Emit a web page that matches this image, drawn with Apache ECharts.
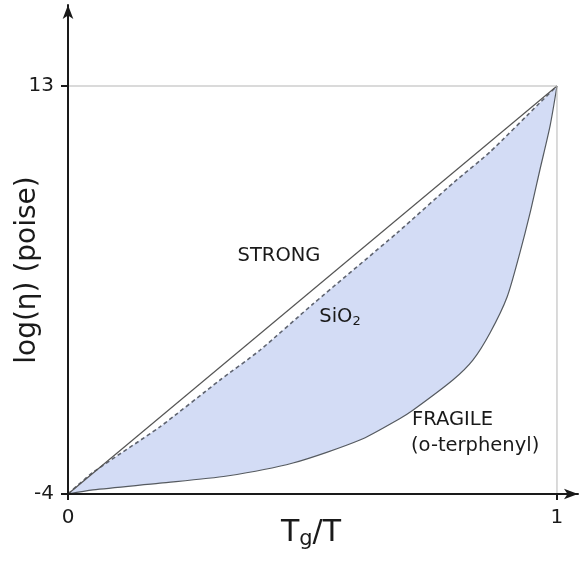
<!DOCTYPE html>
<html lang="en">
<head>
    <meta charset="UTF-8">
    <title>Strong and fragile glass formers</title>
    <script src="https://cdn.jsdelivr.net/npm/echarts@6.0.0/dist/echarts.min.js"></script>
    <style>
        html, body { margin: 0; padding: 0; background: #fff; }
        #chart { width: 579px; height: 561px; }
    </style>
</head>
<body>
    <div id="chart"></div>

    <script>
        // Tg/T, log(eta) pairs
        const strongLine = [[0, -4], [1, 13]];
        const sio2Line = [[0, -4], [0.051, -3.1], [0.188, -1.2], [0.311, 0.75], [0.393, 2.0],
            [0.5, 3.9], [0.673, 6.88], [0.79, 9.0], [0.863, 10.25], [0.965, 12.3], [1, 13]];
        const fragileLine = [[0, -4], [0.051, -3.83], [0.188, -3.55], [0.325, -3.25], [0.46, -2.71],
            [0.597, -1.75], [0.679, -0.85], [0.706, -0.5], [0.787, 0.75], [0.828, 1.58],
            [0.863, 2.71], [0.898, 4.21], [0.924, 6.04], [0.945, 7.71], [0.965, 9.5],
            [0.986, 11.35], [1, 13]];
        const refLine = [[0, 13], [1, 13], [1, -4]];
        const xTicks = [0, 1];
        const yTicks = [-4, 13];

        const chart = echarts.init(document.getElementById('chart'));
        const font = 'DejaVu Sans';
        const ink = '#1a1a1a';
        const noteFont = '19.5px "DejaVu Sans"';

        chart.setOption({
            animation: false,
            grid: { left: 68, top: 5, right: 1, bottom: 67 },
            xAxis: {
                type: 'value',
                min: 0,
                max: 1.043,
                z: 5,
                splitLine: { show: false },
                axisLine: {
                    onZero: false,
                    lineStyle: { color: ink, width: 2 },
                    symbol: ['none', 'arrow'],
                    symbolSize: [8, 14]
                },
                axisTick: { customValues: xTicks, length: 6, lineStyle: { color: ink, width: 2 } },
                axisLabel: {
                    customValues: xTicks,
                    color: ink, fontFamily: font, fontSize: 20, margin: 14
                }
            },
            yAxis: {
                type: 'value',
                min: -4,
                max: 16.375,
                z: 5,
                splitLine: { show: false },
                axisLine: {
                    onZero: false,
                    lineStyle: { color: ink, width: 2 },
                    symbol: ['none', 'arrow'],
                    symbolSize: [8, 14]
                },
                axisTick: { customValues: yTicks, length: 7, lineStyle: { color: ink, width: 2 } },
                axisLabel: {
                    customValues: yTicks,
                    color: ink, fontFamily: font, fontSize: 20, margin: 14
                }
            },
            graphic: {
                elements: [
                    {
                        type: 'text', x: 279, y: 256, z: 100,
                        style: { text: 'STRONG', fill: ink, font: noteFont, align: 'center', verticalAlign: 'middle' }
                    },
                    {
                        type: 'text', x: 340, y: 317, z: 100,
                        style: {
                            text: 'SiO{s|2}', fill: ink, font: noteFont, align: 'center', verticalAlign: 'middle',
                            rich: { s: { fontSize: 13, fontFamily: font, fill: ink, padding: [9, 0, 0, 0] } }
                        }
                    },
                    {
                        type: 'text', x: 412, y: 420, z: 100,
                        style: { text: 'FRAGILE', fill: ink, font: noteFont, align: 'left', verticalAlign: 'middle' }
                    },
                    {
                        type: 'text', x: 411, y: 446, z: 100,
                        style: { text: '(o-terphenyl)', fill: ink, font: noteFont, align: 'left', verticalAlign: 'middle' }
                    },
                    {
                        type: 'text', x: 28, y: 270, z: 100, rotation: Math.PI / 2,
                        style: { text: 'log(η) (poise)', fill: ink, font: '28px "DejaVu Sans"', align: 'center', verticalAlign: 'middle' }
                    },
                    {
                        type: 'text', x: 311, y: 533, z: 100,
                        style: {
                            text: 'T{s|g}/T', fill: ink, font: '30px "DejaVu Sans"', align: 'center', verticalAlign: 'middle',
                            rich: { s: { fontSize: 21, fontFamily: font, fill: ink, padding: [14, 0, 0, 0] } }
                        }
                    }
                ]
            },
            series: [
                {
                    type: 'line',
                    data: sio2Line,
                    smooth: 0.2,
                    symbol: 'none',
                    lineStyle: { color: '#5f6470', width: 1.6, type: [4, 3] },
                    areaStyle: { color: '#d3dcf5', opacity: 1, origin: 'start' }
                },
                {
                    type: 'line',
                    data: fragileLine,
                    smooth: 0.25,
                    symbol: 'none',
                    lineStyle: { color: '#555a60', width: 1.2 },
                    areaStyle: { color: '#ffffff', opacity: 1, origin: 'start' }
                },
                {
                    type: 'line',
                    data: strongLine,
                    symbol: 'none',
                    lineStyle: { color: '#555555', width: 1.2 }
                },
                {
                    type: 'line',
                    data: refLine,
                    symbol: 'none',
                    lineStyle: { color: '#b5b5b5', width: 1 }
                }
            ]
        });
    </script>
</body>
</html>
